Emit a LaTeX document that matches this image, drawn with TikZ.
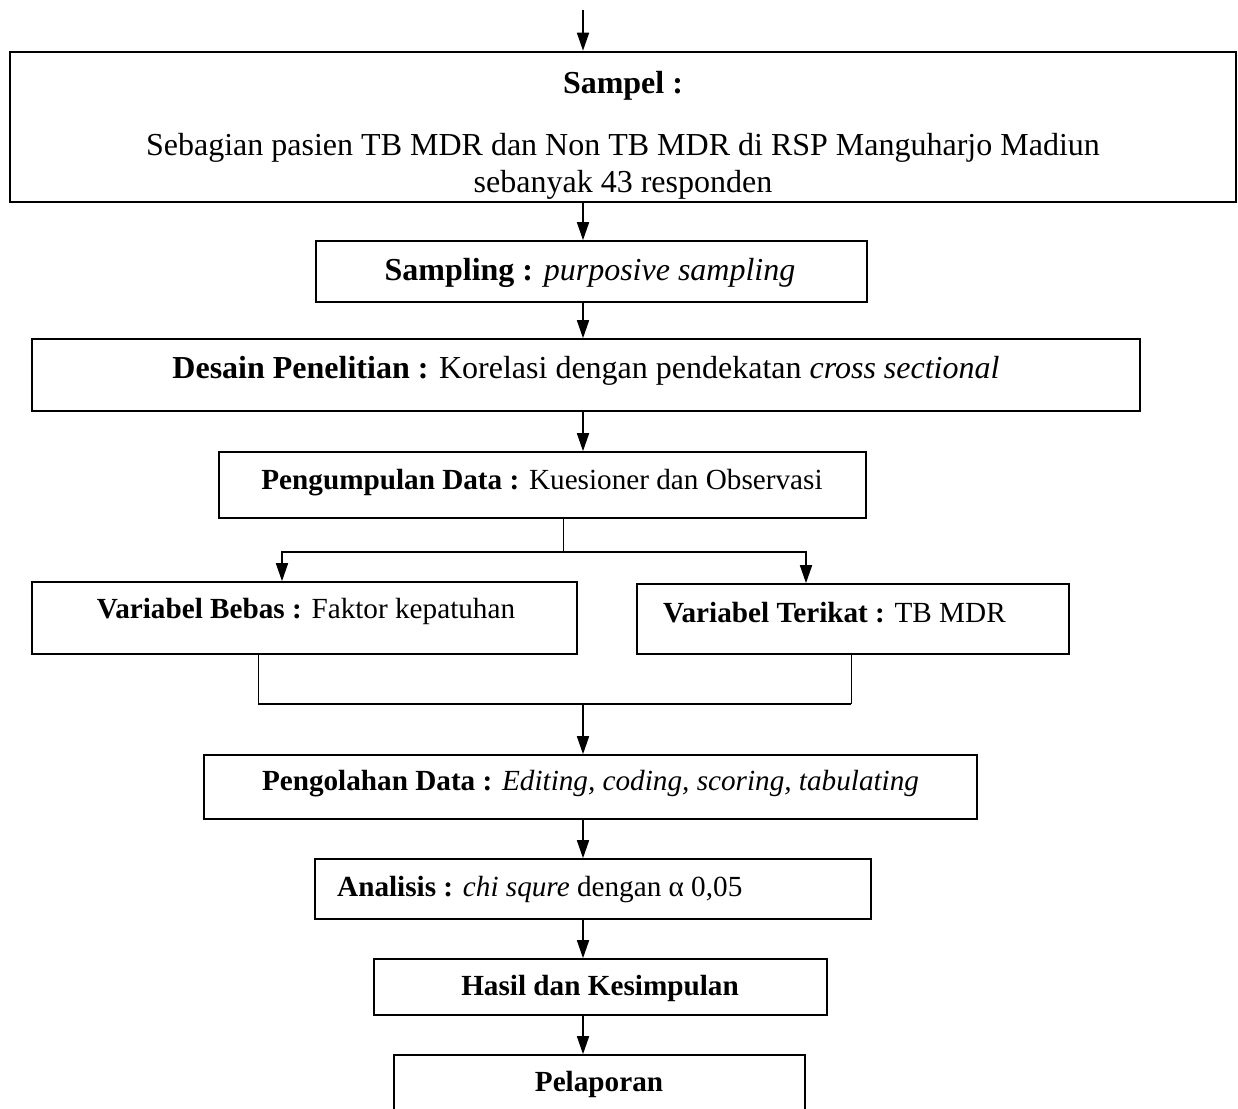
\documentclass[tikz,border=0pt]{standalone}
\usepackage{fontspec}
\setmainfont{Liberation Serif}
\usetikzlibrary{arrows.meta}

\begin{document}
\begin{tikzpicture}[x=1pt,y=-1pt,
  kotak/.style={draw,line width=1.6pt,inner sep=0pt},
  teks/.style={inner sep=0pt,font=\fontsize{32}{38}\selectfont},
  kecil/.style={inner sep=0pt,font=\fontsize{29.2}{35}\selectfont},
  panah/.style={line width=1.6pt,-{Triangle[length=18pt,width=12pt]}}]
\useasboundingbox (0,0) rectangle (1238,1108);
\clip (0,0) rectangle (1238,1108);
\node[kotak,line width=2.6pt,minimum width=1226,minimum height=150] (sampel) at (623,127) {};
\node[kotak,minimum width=551,minimum height=61] (sampling) at (591.5,271.5) {};
\node[kotak,minimum width=1108,minimum height=72] (desain) at (586,375) {};
\node[kotak,minimum width=647,minimum height=66] (kumpul) at (542.5,485) {};
\node[kotak,minimum width=545,minimum height=72] (bebas) at (304.5,618) {};
\node[kotak,minimum width=432,minimum height=70] (terikat) at (853,619) {};
\node[kotak,minimum width=773,minimum height=64] (olah) at (590.5,787) {};
\node[kotak,minimum width=556,minimum height=60] (analisis) at (593,889) {};
\node[kotak,minimum width=453,minimum height=56] (hasil) at (600.5,987) {};
\node[kotak,minimum width=411,minimum height=75] (lapor) at (599.5,1092.5) {};
\node[teks] (tsampel) at (623,86) {\textbf{Sampel :}};
\node[teks] (tsebagian) at (623,148) {Sebagian pasien TB MDR dan Non TB MDR di RSP Manguharjo Madiun};
\node[teks] (tsebanyak) at (623,185) {sebanyak 43 responden};
\node[teks] (tsampling) at (590,273) {\textbf{Sampling :} \textit{purposive sampling}};
\node[teks] (tdesain) at (586,371) {\textbf{Desain Penelitian :} Korelasi dengan pendekatan \textit{cross sectional}};
\node[kecil] (tkumpul) at (542,483) {\textbf{Pengumpulan Data :} Kuesioner dan Observasi};
\node[kecil] (tbebas) at (306,611) {\textbf{Variabel Bebas :} Faktor kepatuhan};
\node[kecil,anchor=west] (tterikat) at (663,613) {\textbf{Variabel Terikat :} TB MDR};
\node[kecil] (tolah) at (590.5,784) {\textbf{Pengolahan Data :} \textit{Editing, coding, scoring, tabulating}};
\node[kecil,anchor=west] (tanalisis) at (337,890) {\textbf{Analisis :} \textit{chi squre} dengan α 0,05};
\node[kecil] (thasil) at (600,988) {\textbf{Hasil dan Kesimpulan}};
\node[kecil] (tlapor) at (599,1084) {\textbf{Pelaporan}};
\coordinate (atas) at (583,10);
\coordinate (cabang) at (563,552);
\coordinate (gabung) at (583,703);
\draw[panah] (atas) -- (atas |- sampel.north);
\draw[panah] (sampel.south -| atas) -- (sampling.north -| atas);
\draw[panah] (sampling.south -| atas) -- (desain.north -| atas);
\draw[panah] (desain.south -| atas) -- (kumpul.north -| atas);
\draw[line width=1pt] (kumpul.south -| cabang) -- (cabang);
\draw[panah] (cabang) -| ([xshift=-22.5pt]bebas.north);
\draw[panah] (cabang) -| ([xshift=-47pt]terikat.north);
\draw[line width=1pt] ([xshift=-46.5pt]bebas.south) -- ++(0,49);
\draw[line width=1pt] ([xshift=-2pt]terikat.south) -- ++(0,49);
\draw[line width=1.6pt] ([xshift=-46.5pt,yshift=-49pt]bebas.south) -- ([xshift=-2pt,yshift=-49pt]terikat.south);
\draw[panah] (gabung) -- (gabung |- olah.north);
\foreach \a/\b in {olah/analisis,analisis/hasil,hasil/lapor}
\draw[panah] (\a.south -| atas) -- (\b.north -| atas);
\end{tikzpicture}
\end{document}
